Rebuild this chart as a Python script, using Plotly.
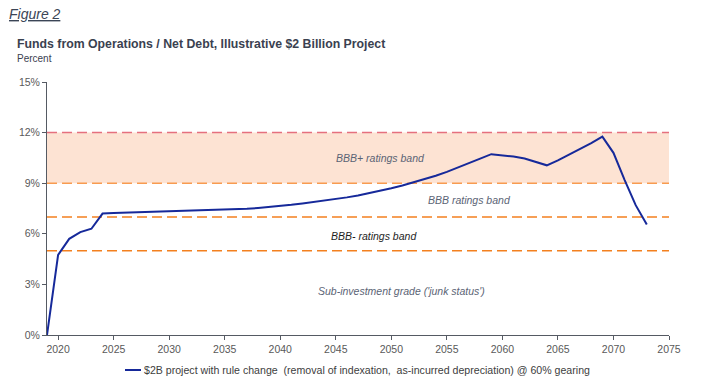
import plotly.graph_objects as go

years = list(range(2019, 2074))
ffo_net_debt = [
    0.0, 4.75, 5.7, 6.1, 6.3, 7.2, 7.24, 7.26, 7.28, 7.30,
    7.32, 7.34, 7.35, 7.37, 7.38, 7.40, 7.42, 7.45, 7.48, 7.53,
    7.58, 7.64, 7.72, 7.80, 7.88, 7.97, 8.06, 8.16, 8.27, 8.40,
    8.55, 8.70, 8.86, 9.04, 9.23, 9.44, 9.67, 9.92, 10.18, 10.46,
    10.72, 10.66, 10.58, 10.46, 10.28, 10.06, 10.35, 10.68, 11.02, 11.38,
    11.76, 10.8, 9.2, 7.7, 6.55,
]
series_name = "$2B project with rule change  (removal of indexation,  as-incurred depreciation) @ 60% gearing"

band_low, band_high = 9, 12
threshold_levels = [12, 9, 7, 5]
threshold_colors = ["#E5707E", "#F89B50", "#F3801F", "#F3801F"]

x_ticks = list(range(2020, 2080, 5))
y_ticks = [0, 3, 6, 9, 12, 15]
y_tick_labels = ["0%", "3%", "6%", "9%", "12%", "15%"]

band_labels = [
    ("BBB+ ratings band", 2049.0, 10.5, "#5B6475"),
    ("BBB ratings band", 2057.0, 8.03, "#5B6475"),
    ("BBB- ratings band", 2048.4, 5.85, "#1E1E1E"),
    ("Sub-investment grade ('junk status')", 2050.9, 2.6, "#5B6475"),
]

FONT = "Liberation Sans, Arial, sans-serif"
W, H = 718, 389
L, R, T, B = 47, 49, 82, 54
pw, ph = W - L - R, H - T - B

def px_x(p):
    return (p - L) / pw

def px_y(p):
    return (H - B - p) / ph

fig = go.Figure()
fig.add_trace(go.Scatter(
    x=years, y=ffo_net_debt, mode="lines",
    line=dict(color="#16299A", width=2),
    name=series_name, showlegend=False,
))

shapes = [dict(type="rect", xref="x", yref="y", x0=2019, x1=2075,
               y0=band_low, y1=band_high, fillcolor="#FDE3D3",
               line=dict(width=0), layer="below")]
for lvl, col in zip(threshold_levels, threshold_colors):
    shapes.append(dict(type="line", xref="x", yref="y", x0=2019, x1=2075,
                       y0=lvl, y1=lvl, line=dict(color=col, width=1.5, dash="10px,5px"),
                       layer="below"))
# legend sample
shapes.append(dict(type="line", xref="paper", yref="paper",
                   x0=px_x(125), x1=px_x(141), y0=px_y(370), y1=px_y(370),
                   line=dict(color="#16299A", width=2)))

annotations = []
for text, xv, yv, col in band_labels:
    annotations.append(dict(x=xv, y=yv, xref="x", yref="y", text=f"<i>{text}</i>",
                            showarrow=False, font=dict(family=FONT, size=10.5, color=col)))
annotations += [
    dict(x=px_x(7), y=px_y(14), xref="paper", yref="paper", xanchor="left", yanchor="middle",
         text="<i><u>Figure 2</u></i>", showarrow=False,
         font=dict(family=FONT, size=14, color="#3B4556")),
    dict(x=px_x(15), y=px_y(44), xref="paper", yref="paper", xanchor="left", yanchor="middle",
         text="<b>Funds from Operations / Net Debt, Illustrative $2 Billion Project</b>",
         showarrow=False, font=dict(family=FONT, size=12.3, color="#3A4150")),
    dict(x=px_x(15), y=px_y(58), xref="paper", yref="paper", xanchor="left", yanchor="middle",
         text="Percent", showarrow=False, font=dict(family=FONT, size=10, color="#3A4150")),
    dict(x=px_x(142), y=px_y(370), xref="paper", yref="paper", xanchor="left", yanchor="middle",
         text=series_name, showarrow=False, font=dict(family=FONT, size=10.6, color="#404040")),
]

fig.update_layout(
    width=W, height=H,
    margin=dict(l=L, r=R, t=T, b=B),
    paper_bgcolor="white", plot_bgcolor="white",
    font=dict(family=FONT, size=10.5, color="#595959"),
    shapes=shapes, annotations=annotations,
    showlegend=False,
)
fig.update_xaxes(range=[2019, 2075], tickvals=x_ticks, showgrid=False, zeroline=False,
                 showline=True, linecolor="#555A63", linewidth=1,
                 ticks="outside", ticklen=4, tickcolor="#555A63",
                 tickfont=dict(family=FONT, size=10.5, color="#595959"))
fig.update_yaxes(range=[0, 15], tickvals=y_ticks, ticktext=y_tick_labels, showgrid=False,
                 zeroline=False, showline=True, linecolor="#555A63", linewidth=1,
                 ticks="outside", ticklen=4, tickcolor="#555A63",
                 tickfont=dict(family=FONT, size=10.5, color="#595959"))

fig.write_html("out.html", config={"displayModeBar": False},
               post_script="document.body.style.margin='0';")
